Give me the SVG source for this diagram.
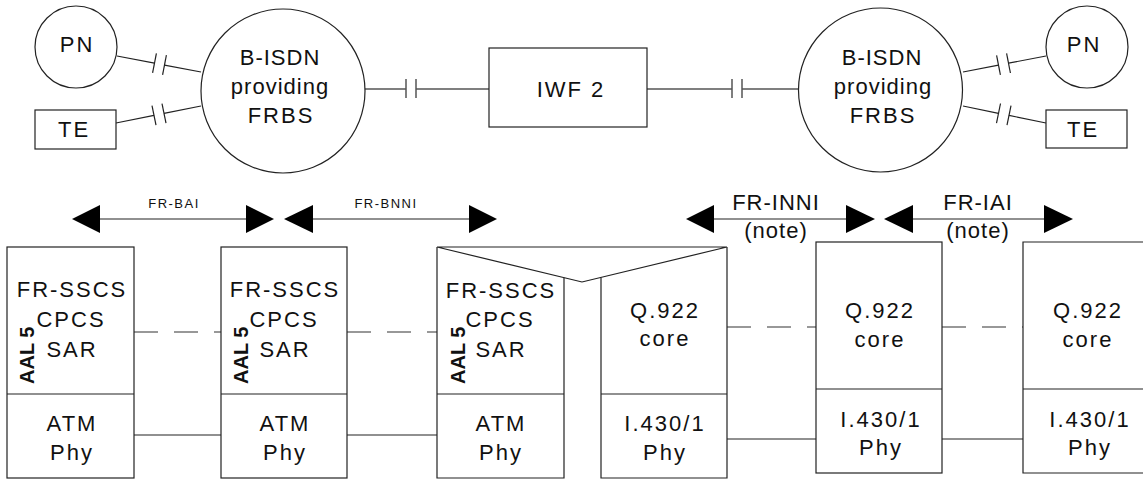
<svg xmlns="http://www.w3.org/2000/svg" width="1143" height="480" viewBox="0 0 1143 480">
<style>
  .t { font-family: "Liberation Sans", Arial, sans-serif; font-size: 22px; fill: #111; text-anchor: middle; letter-spacing: 2px; }
  .tw { font-family: "Liberation Sans", Arial, sans-serif; font-size: 22px; fill: #111; text-anchor: middle; letter-spacing: 1px; }
  .ts { font-family: "Liberation Sans", Arial, sans-serif; font-size: 13px; fill: #111; text-anchor: middle; letter-spacing: 1.5px; }
  .aal { font-family: "Liberation Sans", Arial, sans-serif; font-size: 20px; font-weight: bold; fill: #111; }
  .sh { fill: #fff; stroke: #222; stroke-width: 1.2; }
  .ln { fill: none; stroke: #222; stroke-width: 1.2; }
  .gl { fill: none; stroke: #555; stroke-width: 1.5; }
  .dl { fill: none; stroke: #333; stroke-width: 1.2; stroke-dasharray: 24 16; }
  .ah { fill: #000; stroke: none; }
</style>

<g id="connectors">
  <!-- left PN to B-ISDN -->
  <line class="ln" x1="117" y1="56" x2="154.5" y2="63.1"/>
  <line class="ln" x1="156.4" y1="53.3" x2="152.6" y2="72.9"/>
  <line class="ln" x1="166.4" y1="55.2" x2="162.6" y2="74.9"/>
  <line class="ln" x1="164.5" y1="65.05" x2="201" y2="72"/>
  <!-- left TE to B-ISDN -->
  <line class="ln" x1="116" y1="123" x2="154" y2="115.4"/>
  <line class="ln" x1="152" y1="105.6" x2="156" y2="125.2"/>
  <line class="ln" x1="162" y1="103.6" x2="166" y2="123.2"/>
  <line class="ln" x1="164" y1="113.4" x2="201" y2="106"/>
  <!-- B-ISDN to IWF 2 -->
  <line class="gl" x1="365" y1="89" x2="406" y2="89"/>
  <line class="gl" x1="406" y1="79" x2="406" y2="98"/>
  <line class="gl" x1="416" y1="79" x2="416" y2="98"/>
  <line class="gl" x1="416" y1="89" x2="489" y2="89"/>
  <!-- IWF 2 to right B-ISDN -->
  <line class="gl" x1="647" y1="89" x2="732" y2="89"/>
  <line class="gl" x1="732" y1="79" x2="732" y2="98"/>
  <line class="gl" x1="742" y1="79" x2="742" y2="98"/>
  <line class="gl" x1="742" y1="89" x2="799" y2="89"/>
  <!-- right B-ISDN to PN -->
  <line class="ln" x1="963" y1="72" x2="998.5" y2="65.15"/>
  <line class="ln" x1="996.6" y1="55.35" x2="1000.4" y2="74.95"/>
  <line class="ln" x1="1006.6" y1="53.4" x2="1010.4" y2="73"/>
  <line class="ln" x1="1008.5" y1="63.2" x2="1046" y2="56"/>
  <!-- right B-ISDN to TE -->
  <line class="ln" x1="963" y1="106" x2="998.5" y2="113.3"/>
  <line class="ln" x1="1000.5" y1="103.5" x2="996.5" y2="123.1"/>
  <line class="ln" x1="1011" y1="105.6" x2="1007" y2="125.2"/>
  <line class="ln" x1="1009" y1="115.4" x2="1046" y2="123"/>

  <!-- interface arrows -->
  <line class="ln" x1="100" y1="219" x2="246" y2="219"/>
  <polygon class="ah" points="72,219 100,205 100,233"/>
  <polygon class="ah" points="274,219 246,205 246,233"/>
  <line class="ln" x1="313" y1="219" x2="469" y2="219"/>
  <polygon class="ah" points="284,219 313,205 313,233"/>
  <polygon class="ah" points="497,219 469,205 469,233"/>
  <line class="ln" x1="714" y1="219" x2="846" y2="219"/>
  <polygon class="ah" points="686,219 714,205 714,233"/>
  <polygon class="ah" points="875,219 846,205 846,233"/>
  <line class="ln" x1="913" y1="219" x2="1044" y2="219"/>
  <polygon class="ah" points="884,219 913,205 913,233"/>
  <polygon class="ah" points="1073,219 1044,205 1044,233"/>

  <!-- peer lines between stacks -->
  <line class="dl" x1="134" y1="332" x2="221" y2="332"/>
  <line class="dl" x1="347" y1="332" x2="437" y2="332"/>
  <line class="dl" x1="727" y1="327" x2="816" y2="327"/>
  <line class="dl" x1="942" y1="327" x2="1023" y2="327"/>
  <line class="ln" x1="134" y1="435" x2="221" y2="435"/>
  <line class="ln" x1="347" y1="435" x2="437" y2="435"/>
  <line class="ln" x1="727" y1="439" x2="816" y2="439"/>
  <line class="ln" x1="942" y1="439" x2="1023" y2="439"/>
</g>

<g id="labels">
  <text class="ts" x="174" y="208">FR-BAI</text>
  <text class="ts" x="386" y="208">FR-BNNI</text>
  <text class="tw" x="776" y="210">FR-INNI</text>
  <text class="tw" x="776" y="238">(note)</text>
  <text class="tw" x="978" y="210">FR-IAI</text>
  <text class="tw" x="978" y="238">(note)</text>
</g>

<g id="pn-left">
  <circle class="sh" cx="76" cy="47" r="41"/>
  <text class="t" x="77" y="52">PN</text>
</g>
<g id="te-left">
  <rect class="sh" x="35" y="110" width="81" height="39"/>
  <text class="t" x="74" y="137">TE</text>
</g>
<g id="bisdn-left">
  <circle class="sh" cx="283" cy="91" r="82"/>
  <text class="tw" x="280" y="65">B-ISDN</text>
  <text class="tw" x="280" y="94">providing</text>
  <text class="t" x="281" y="123">FRBS</text>
</g>
<g id="iwf2">
  <rect class="sh" x="489" y="48" width="158" height="79"/>
  <text class="t" x="571" y="97">IWF 2</text>
</g>
<g id="bisdn-right">
  <circle class="sh" cx="880.5" cy="90" r="82"/>
  <text class="tw" x="882" y="65">B-ISDN</text>
  <text class="tw" x="883" y="94">providing</text>
  <text class="t" x="883" y="123">FRBS</text>
</g>
<g id="pn-right">
  <circle class="sh" cx="1087" cy="47" r="41"/>
  <text class="t" x="1084" y="52">PN</text>
</g>
<g id="te-right">
  <rect class="sh" x="1046" y="110" width="81" height="38"/>
  <text class="t" x="1083" y="137">TE</text>
</g>

<g id="stack1">
  <rect class="sh" x="7" y="247" width="127" height="231"/>
  <line class="ln" x1="7" y1="394" x2="134" y2="394"/>
  <text class="t" x="72" y="297">FR-SSCS</text>
  <text class="t" x="71" y="327">CPCS</text>
  <text class="t" x="72" y="357">SAR</text>
  <text class="aal" transform="translate(34,384) rotate(-90)">AAL 5</text>
  <text class="t" x="72" y="431">ATM</text>
  <text class="t" x="72" y="460">Phy</text>
</g>
<g id="stack2">
  <rect class="sh" x="221" y="247" width="126" height="231"/>
  <line class="ln" x1="221" y1="394" x2="347" y2="394"/>
  <text class="t" x="285" y="297">FR-SSCS</text>
  <text class="t" x="284" y="327">CPCS</text>
  <text class="t" x="285" y="357">SAR</text>
  <text class="aal" transform="translate(248,384) rotate(-90)">AAL 5</text>
  <text class="t" x="285" y="431">ATM</text>
  <text class="t" x="285" y="460">Phy</text>
</g>
<g id="iwf-stacks">
  <path class="ln" d="M437,247 H727 M437,247 L582,282 L727,247"/>
  <path class="ln" d="M437,247 V478 H564 V277.7"/>
  <path class="ln" d="M601,277.4 V478 H727 V247"/>
  <line class="ln" x1="437" y1="394" x2="564" y2="394"/>
  <line class="ln" x1="601" y1="394" x2="727" y2="394"/>
  <text class="t" x="501" y="298">FR-SSCS</text>
  <text class="t" x="500" y="327">CPCS</text>
  <text class="t" x="501" y="357">SAR</text>
  <text class="aal" transform="translate(465,384) rotate(-90)">AAL 5</text>
  <text class="t" x="501" y="431">ATM</text>
  <text class="t" x="501" y="460">Phy</text>
  <text class="t" x="665" y="318">Q.922</text>
  <text class="t" x="665" y="346">core</text>
  <text class="t" x="665" y="431">I.430/1</text>
  <text class="t" x="665" y="460">Phy</text>
</g>
<g id="stack5">
  <rect class="sh" x="816" y="242" width="126" height="231"/>
  <line class="ln" x1="816" y1="389" x2="942" y2="389"/>
  <text class="t" x="880" y="318">Q.922</text>
  <text class="t" x="880" y="347">core</text>
  <text class="t" x="881" y="427">I.430/1</text>
  <text class="t" x="881" y="455">Phy</text>
</g>
<g id="stack6">
  <path class="sh" d="M1144,242 H1023 V473 H1144"/>
  <line class="ln" x1="1023" y1="389" x2="1144" y2="389"/>
  <text class="t" x="1088" y="318">Q.922</text>
  <text class="t" x="1088" y="347">core</text>
  <text class="t" x="1090" y="427">I.430/1</text>
  <text class="t" x="1090" y="455">Phy</text>
</g>
</svg>
